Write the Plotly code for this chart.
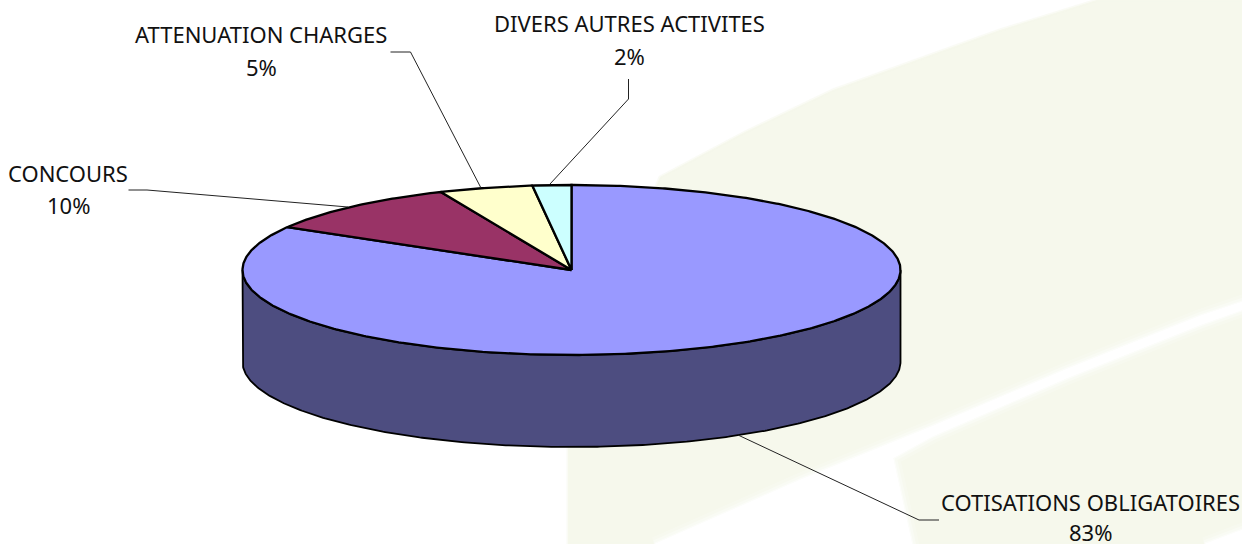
import numpy as np
import plotly.graph_objects as go

# ---- data (clockwise from 12 o'clock) ----
categories = ["COTISATIONS OBLIGATOIRES", "CONCOURS", "ATTENUATION CHARGES", "DIVERS AUTRES ACTIVITES"]
values = [83.4, 10.1, 4.6, 1.9]
colors = ["#9999FF", "#993366", "#FFFFCC", "#CCFFFF"]
side_color = "#4D4D80"
pale = "#F6F8EC"

# ---- pie geometry in page pixels ----
CX, CY, RX, RY, DEPTH = 571.5, 270, 329, 85, 92


def rim(t0, t1, dy=0):
    t = np.radians(np.linspace(t0, t1, max(2, int(abs(t1 - t0) * 2) + 1)))
    return CX + RX * np.sin(t), CY + dy - RY * np.cos(t)


fig = go.Figure()

# side wall of the disc (front half, visible below the top face)
xa, ya = rim(90, 270)
xb, yb = rim(270, 90, DEPTH)
fig.add_trace(go.Scatter(
    x=np.r_[xa, xb, xa[0]], y=np.r_[ya, yb, ya[0]], mode="lines", fill="toself",
    fillcolor=side_color, line=dict(color="black", width=1.8), hoverinfo="skip", showlegend=False))

# top face slices from the values
total = sum(values)
start = 0.0
for name, v, c in zip(categories, values, colors):
    end = start + 360 * v / total
    xs, ys = rim(start, end)
    fig.add_trace(go.Scatter(
        x=np.r_[CX, xs, CX], y=np.r_[CY, ys, CY], mode="lines", fill="toself", name=name,
        fillcolor=c, line=dict(color="black", width=2.3), hoverinfo="skip", showlegend=False))
    start = end

# leader lines
leaders = [
    ([738, 919, 939], [435, 520, 520]),
    ([348, 147, 128.5], [207, 190, 190]),
    ([481, 410.5, 390.5], [188, 52, 52]),
    ([550, 628.5, 628.5], [184, 99, 79]),
]
for lx, ly in leaders:
    fig.add_trace(go.Scatter(x=lx, y=ly, mode="lines", line=dict(color="#222222", width=1),
                             hoverinfo="skip", showlegend=False))

# labels
label_pos = [(1090, 502, 533), (68, 173, 205), (261, 34, 67), (629, 23, 56)]
ann = []
for name, v, (x, y1, y2) in zip(categories, values, label_pos):
    for txt, y in ((name, y1), (f"{round(v)}%", y2)):
        a = dict(x=x, y=y, text=txt, showarrow=False, xanchor="center", yanchor="middle",
                 font=dict(family="Noto Sans", size=22, color="#111111"))
        if y > 520:  # last line sits on the bottom edge of the page: keep its box inside
            a.update(y=544, yanchor="bottom", height=22, borderpad=0)
        ann.append(a)


def poly(points, rgb, core):
    """Soft-edged background shape: translucent wide outlines around a filled core."""
    d = "M" + " L".join(f"{x},{y}" for x, y in points) + " Z"
    out = []
    for w, a in ((14, 0.2), (8, 0.3), (3, 0.5)):
        out.append(dict(type="path", path=d, xref="x", yref="y", layer="below",
                        fillcolor=f"rgba({rgb},{core})", line=dict(color=f"rgba({rgb},{a})", width=w)))
    return out


shapes = []
shapes += [dict(type="path",
                path="M660,177 L745,132 L833,90 L1000,30 L1097,0 L1242,0 L1242,544 L568,544 L568,400 Z",
                xref="x", yref="y", layer="below", fillcolor=pale,
                line=dict(color="rgba(246,248,236,0.5)", width=3))]
shapes += poly([(655, 544), (800, 480), (933, 426), (1067, 369), (1200, 316), (1242, 302),
                (1242, 310), (1200, 325), (1067, 378), (933, 436), (893, 458), (912, 544)],
               "255,255,255", 0.7)
shapes += poly([(1205, 544), (1242, 530), (1242, 544)], "255,255,255", 0.7)

fig.update_layout(
    width=1242, height=544, margin=dict(l=0, r=0, t=0, b=0),
    paper_bgcolor="white", plot_bgcolor="white", showlegend=False,
    xaxis=dict(range=[0, 1242], visible=False, fixedrange=True),
    yaxis=dict(range=[544, 0], visible=False, fixedrange=True),
    annotations=ann, shapes=shapes,
)

fig.write_html("out.html", config=dict(displayModeBar=False),
               post_script="document.body.style.margin='0';")
